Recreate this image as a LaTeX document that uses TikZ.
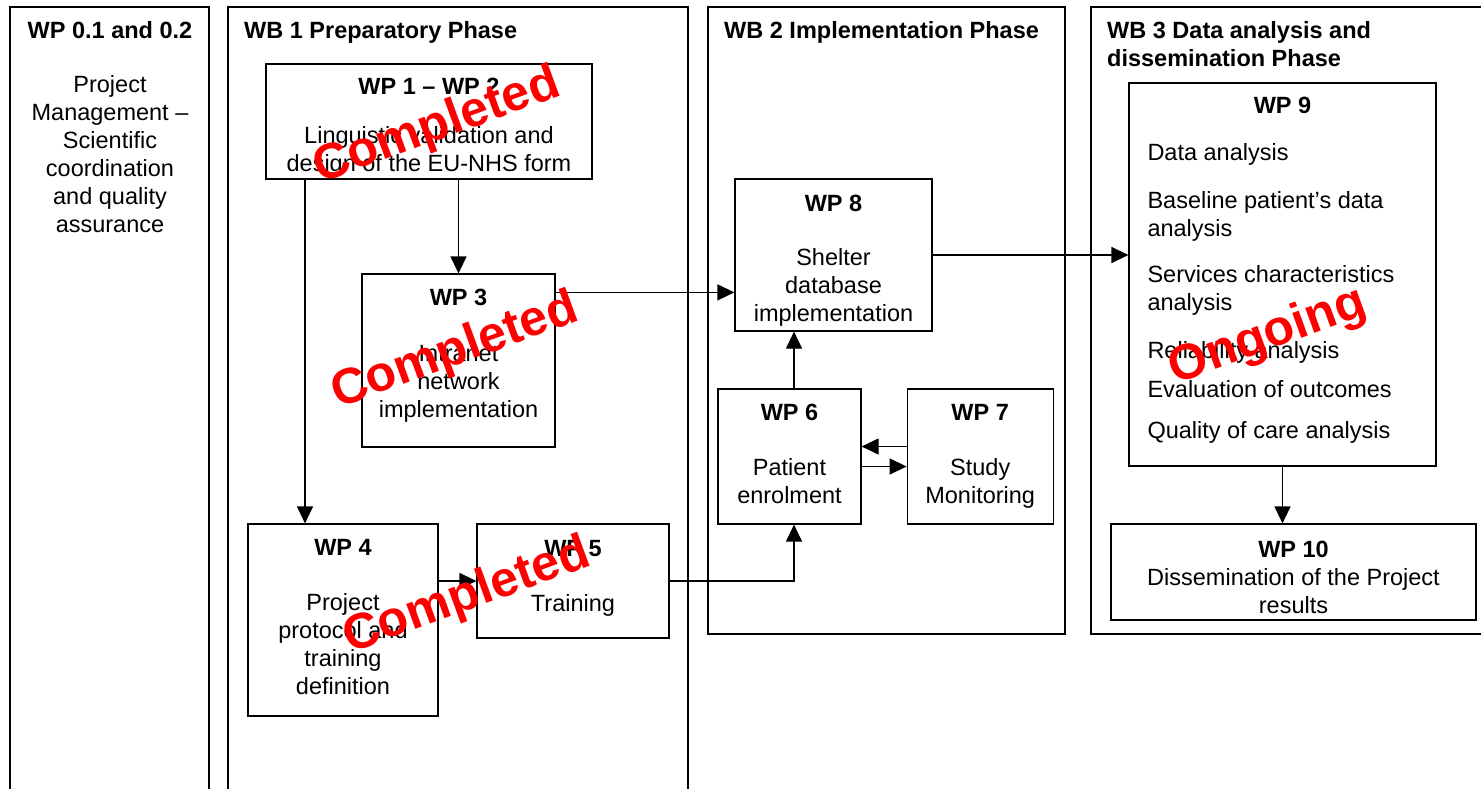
\documentclass[tikz,border=0pt]{standalone}
\usepackage{fontspec}
\setmainfont{Liberation Sans}
\usepackage{tikz}
\usetikzlibrary{positioning, arrows.meta}
\newcommand{\itemline}[1]{\makebox[270pt][l]{#1}}
\newcommand{\toppad}{\rule{0pt}{27pt}}
\newcommand{\botpad}[1]{\rule[-#1]{0pt}{0pt}}
\tikzset{
    x=1pt, y=-1pt, % one unit is one pixel of the layout, y grows downwards
    every node/.style={font=\fontsize{23.5}{28}\selectfont}, % body text size
    wp/.style={draw, line width=1.2pt, fill=white, align=center, inner sep=0pt}, % work package boxes
    phase/.style={draw, line width=1.2pt}, % the phase columns
    head/.style={inner sep=0pt, font=\fontsize{23.5}{28}\selectfont\bfseries}, % column titles
    flow/.style={line width=1.2pt, -{Triangle[length=17pt, width=16pt]}}, % the arrows
    stamp/.style={text=red, rotate=20, inner sep=0pt, font=\fontsize{50}{50}\selectfont\bfseries}, % status stamps
}
\begin{document}
\begin{tikzpicture}
    \useasboundingbox (0,0) rectangle (1481,789);
    \clip (0,0) rectangle (1481,789);
    % phase columns
    \draw[phase] (10,7) rectangle (209,800);
    \draw[phase] (228,7) rectangle (688,800);
    \draw[phase] (708,7) rectangle (1065,634);
    \draw[phase] (1091,7) rectangle (1500,634);
    \node[inner sep=0pt, align=center, anchor=north] (p0) at (110,21.7) {\textbf{WP 0.1 and 0.2}\\[26pt]Project\\Management --\\Scientific\\coordination\\and quality\\assurance};
    \node[head, anchor=base west] (h1) at (244,38.5) {WB 1 Preparatory Phase};
    \node[head, anchor=base west] (h2) at (724,38.5) {WB 2 Implementation Phase};
    \node[head, align=left, anchor=north west] (h3) at (1107,21.7) {WB 3 Data analysis and\\dissemination Phase};
    % work packages
    \node[wp, minimum width=326pt, minimum height=115pt] (wp12) at (429,121.5) {\toppad\textbf{WP 1 -- WP 2}\\[21pt]Linguistic validation and\\design of the EU-NHS form};
    \node[wp, minimum width=193pt, minimum height=173pt] (wp3) at (458.5,360.5) {\textbf{WP 3}\\[28pt]Intranet\\network\\implementation\botpad{15pt}};
    \node[wp, minimum width=190pt, minimum height=192pt] (wp4) at (343,620) {\textbf{WP 4}\\[27pt]Project\\protocol and\\training\\definition\botpad{6pt}};
    \node[wp, minimum width=192pt, minimum height=114pt] (wp5) at (573,581) {\textbf{WP 5}\\[27pt]Training\botpad{11pt}};
    \node[wp, minimum width=197pt, minimum height=152pt] (wp8) at (833.5,255) {\toppad\textbf{WP 8}\\[26pt]Shelter\\database\\implementation};
    \node[wp, minimum width=143pt, minimum height=135pt] (wp6) at (789.5,456.5) {\textbf{WP 6}\\[27pt]Patient\\enrolment\botpad{6pt}};
    \node[wp, minimum width=146pt, minimum height=135pt, right=45pt of wp6] (wp7) {\textbf{WP 7}\\[27pt]Study\\Monitoring};
    \node[wp, minimum width=307pt, minimum height=383pt] (wp9) at (1282.5,274.5) {\textbf{WP 9}\\[19pt]
        \itemline{Data analysis}\\[20pt]
        \itemline{Baseline patient's data}\\
        \itemline{analysis}\\[18pt]
        \itemline{Services characteristics}\\
        \itemline{analysis}\\[20pt]
        \itemline{Reliability analysis}\\[11pt]
        \itemline{Evaluation of outcomes}\\[13pt]
        \itemline{Quality of care analysis}\botpad{13pt}};
    \node[wp, minimum width=365pt, minimum height=96pt] (wp10) at (1293.5,572) {\toppad\textbf{WP 10}\\Dissemination of the Project\\results};
    % connections
    \coordinate (a4) at ([xshift=-38pt]wp4.north);
    \coordinate (a3) at ([yshift=-19pt]wp3.north east);
    \coordinate (a6) at ([xshift=4.5pt]wp6.south);
    \coordinate (a8) at ([xshift=4.5pt]wp6.north);
    \draw[flow] (wp12.south -| wp3.north) -- (wp3.north);
    \draw[flow] (a4 |- wp12.south) -- (a4);
    \draw[flow] (a3) -- (a3 -| wp8.west);
    \draw[flow] (wp4.east |- wp5) -- (wp5.west);
    \draw[flow] (wp5.east) -| (a6);
    \draw[flow] (a8) -- (a8 |- wp8.south);
    \draw[flow] ([yshift=10pt]wp7.west) -- ([yshift=10pt]wp6.east);
    \draw[flow] ([yshift=-10pt]wp6.east) -- ([yshift=-10pt]wp7.west);
    \draw[flow] (wp8.east) -- (wp8.east -| wp9.west);
    \draw[flow] (wp9.south) -- (wp9.south |- wp10.north);
    % status stamps
    \node[stamp] (st1) at (437,127) {Completed};
    \node[stamp] (st2) at (455,352) {Completed};
    \node[stamp] (st3) at (467,597) {Completed};
    \node[stamp] (st4) at (1268,337) {Ongoing};
\end{tikzpicture}
\end{document}
